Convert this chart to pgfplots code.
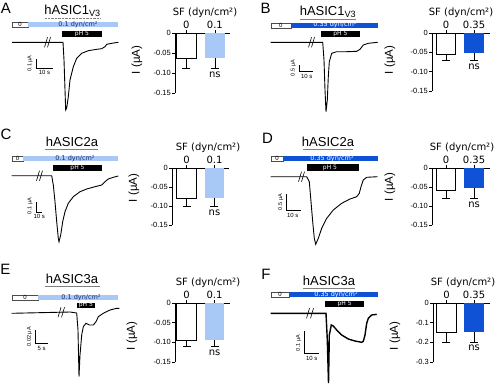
\documentclass[border=0pt]{standalone}
\usepackage{pgfplots}
\pgfplotsset{compat=1.18}
\usepackage{fontspec}
\setmainfont{Liberation Sans}
\newfontfamily\dv{DejaVu Sans}
\definecolor{lb}{RGB}{168,200,245}
\definecolor{db}{RGB}{16,82,214}
\definecolor{navy}{RGB}{25,45,120}
\newcommand{\fs}[1]{\fontsize{#1}{#1}\selectfont}
\pgfplotsset{
 barax/.style={scale only axis, anchor=north west, clip=false,
  axis x line=top, axis y line=left, axis line style={-, line width=0.6pt},
  tick align=outside, major tick length=3pt, tick style={black, line width=0.6pt},
  xtick={0,1}, ymax=0,
  yticklabel style={font=\fs{7.5}, inner sep=1pt},
  xticklabel style={font=\dv\fs{10}, inner sep=1pt},
  /pgf/number format/assume math mode=true},
 wbar/.style={ybar, bar width=19.5pt, bar shift=0pt, fill=white, draw=black, line width=0.6pt,
  error bars/.cd, y dir=minus, y explicit, error mark=-,
  error bar style={draw=black, line width=0.6pt},
  error mark options={draw=black, line width=0.6pt, mark size=4pt, rotate=90}},
 cbar/.style={ybar, bar width=19.5pt, bar shift=0pt, fill=#1, draw=none,
  error bars/.cd, y dir=minus, y explicit, error mark=-,
  error bar style={draw=black, line width=0.6pt},
  error mark options={draw=black, line width=0.6pt, mark size=4pt, rotate=90}},
}
\newcommand{\ns}[1]{\node[font=\dv\fs{10}, anchor=north, inner sep=1pt, yshift=-2pt] at (axis cs:1,#1) {ns};}
\newcommand{\brk}[2]{\draw[black, line width=0.6pt] (#1-1.5,#2+5) -- (#1+1.5,#2-5);}
\newcommand{\sflab}[2]{\node[font=\dv\fs{10}] at (#1,#2) {SF (dyn/cm²)};}
\newcommand{\ilab}[2]{\node[font=\fs{11.5}, rotate=90] at (#1,#2) {I (µA)};}
\begin{document}
\begin{tikzpicture}
\path[use as bounding box] (0,0) rectangle (500pt,383pt);
\begin{axis}[at={(0pt,0pt)}, anchor=south west, scale only axis, width=500pt, height=383pt,
  xmin=0, xmax=500, ymin=0, ymax=383, y dir=reverse, hide axis, clip=false]
% ---- traces
\addplot[black, line width=0.9pt] coordinates {(12,42.3) (63,42.3) (64,60) (65,90) (65.7,110) (66.7,108) (68.3,96.7) (70,80) (73.3,66.7) (76.7,58.3) (81.7,53.3) (88.3,50.7) (96.7,49.3) (101.7,48.7) (105,46.7) (106.7,44.3) (111.7,43.3) (118.3,42.3)};
\addplot[black, line width=0.9pt] coordinates {(270.7,42.3) (322.7,42.3) (324,60) (325,90) (326,111.7) (327.3,100) (328.3,76.7) (329.3,61.7) (331.7,53.3) (336.7,51.7) (346.7,51.7) (356.7,51.3) (360,49.3) (363.3,45) (368.3,43.3) (377.7,42.3)};
\addplot[black, line width=0.9pt] coordinates {(11.7,175.7) (51.7,175.7) (53.3,185) (55,201.7) (56.7,221.7) (58.3,238.3) (59,241.7) (60.7,235) (62.7,221.7) (65,211.7) (68.3,203.3) (73.3,196.7) (80,191.7) (86.7,189) (95,186.7) (101.7,185) (105,181.7) (108.3,179) (113.3,177.3) (118.3,176)};
\addplot[black, line width=0.9pt] coordinates {(270.7,176.7) (306.7,176.7) (309.3,181.7) (311,201.7) (312.7,221.7) (314.3,238.3) (315.7,244.3) (318.3,238.3) (321.7,228.3) (326.7,218.3) (333.3,210) (341.7,203.3) (350,199) (356.7,196.7) (359.3,193.3) (361,186.7) (363.3,180) (366.7,177.3) (377.7,176.7)};
\addplot[black, line width=0.9pt] coordinates {(11.7,313.3) (56.7,312.3) (70,312) (76.7,313) (78,330) (79,376.7) (80,355) (81.7,335) (83.3,326.7) (86,323.3) (89.3,325) (93.3,325) (96,321.7) (98.3,316.7) (103.3,313.3) (110,310) (116.7,308.3) (119.3,308.3)};
\addplot[black, line width=1.4pt] coordinates {(270.7,313.3) (326,313.3) (327.3,340) (328.5,383) (329,355) (329.3,335) (330,331.7) (331.3,325) (333.3,326) (336.7,330) (341.7,335) (348.3,339) (355,341) (361.7,342.3) (363.3,341.3) (365,335) (366.7,323.3) (368.3,318.3) (371.7,315) (376.7,314.3)};
% ---- break marks
\brk{46}{42.3} \brk{49}{42.3} \brk{310}{42.3} \brk{313}{42.3}
\brk{38}{175.7} \brk{41}{175.7} \brk{300}{176.7} \brk{303}{176.7}
\brk{59.5}{312.3} \brk{63}{312.3} \brk{308}{313.3} \brk{312}{313.3}
% ---- stimulus bars
% A
\filldraw[fill=white, draw=gray!60!black, line width=0.4pt] (12,21.7) rectangle (28.3,27.3);
\node[font=\fs{6}, inner sep=0pt] at (20,24.5) {0};
\fill[lb] (28.3,21.7) rectangle (118.3,27.3);
\node[font=\dv\fs{6.5}, text=navy, inner sep=0pt] at (78,24.5) {0.1 dyn/cm²};
\fill[black] (61.7,30.7) rectangle (101.7,37.3);
\node[font=\dv\fs{6}, text=white, inner sep=0pt] at (82,34) {pH 5};
% B
\filldraw[fill=white, draw=gray!60!black, line width=0.4pt] (270.7,22.7) rectangle (290.7,27.7);
\node[font=\fs{6}, inner sep=0pt] at (280.7,25.2) {0};
\fill[db] (290.7,22.7) rectangle (377.7,27.7);
\node[font=\dv\fs{6.5}, text=white, inner sep=0pt] at (335,25.2) {0.35 dyn/cm²};
\fill[black] (320.7,31.3) rectangle (360,36.7);
\node[font=\dv\fs{6}, text=white, inner sep=0pt] at (340.3,34) {pH 5};
% C
\filldraw[fill=white, draw=gray!60!black, line width=0.4pt] (11.7,156) rectangle (23.3,161);
\node[font=\fs{6}, inner sep=0pt] at (17.5,158.5) {0};
\fill[lb] (23.3,156) rectangle (118.3,161);
\node[font=\dv\fs{6.5}, text=navy, inner sep=0pt] at (75,158.5) {0.1 dyn/cm²};
\fill[black] (53.3,165) rectangle (101.7,171);
\node[font=\dv\fs{6}, text=white, inner sep=0pt] at (77.5,168) {pH 5};
% D
\filldraw[fill=white, draw=gray!60!black, line width=0.4pt] (270.7,156) rectangle (283.3,161);
\node[font=\fs{6}, inner sep=0pt] at (277,158.5) {0};
\fill[db] (283.3,156) rectangle (377.7,161);
\node[font=\dv\fs{6.5}, text=white, inner sep=0pt] at (332,158.5) {0.35 dyn/cm²};
\fill[black] (307.3,164.3) rectangle (359.3,170.7);
\node[font=\dv\fs{6}, text=white, inner sep=0pt] at (330,167.5) {pH 5};
% E
\filldraw[fill=white, draw=gray!60!black, line width=0.4pt] (11.7,295) rectangle (38.3,300);
\node[font=\fs{6}, inner sep=0pt] at (25,297.5) {0};
\fill[lb] (38.3,295) rectangle (118.3,300);
\node[font=\dv\fs{6.5}, text=navy, inner sep=0pt] at (81,297.5) {0.1 dyn/cm²};
\fill[black] (76.7,302.7) rectangle (95,307.7);
\node[font=\dv\fs{6}, text=white, inner sep=0pt] at (85.8,305.2) {pH 5};
% F
\filldraw[fill=white, draw=gray!60!black, line width=0.4pt] (270.7,291.7) rectangle (289.3,297.3);
\node[font=\fs{6}, inner sep=0pt] at (280,294.5) {0};
\fill[db] (289.3,291.7) rectangle (378.3,297.3);
\node[font=\dv\fs{6.5}, text=white, inner sep=0pt] at (336,294.5) {0.35 dyn/cm²};
\fill[black] (325,300.7) rectangle (364.3,307.3);
\node[font=\dv\fs{6}, text=white, inner sep=0pt] at (344.7,304) {pH 5};
% ---- scale bars
\draw[line width=0.8pt] (36,59)--(36,68)--(53,68);
\node[rotate=90, font=\fs{5.5}] at (30,63.5) {0.1 µA};
\node[font=\fs{6}] at (44.5,72.5) {10 s};
\draw[line width=0.8pt] (299.3,65)--(299.3,71.7)--(313.3,71.7);
\node[rotate=90, font=\fs{5.5}] at (293.3,68) {0.5 µA};
\node[font=\fs{6}] at (306.7,76.5) {10 s};
\draw[line width=0.8pt] (36,201.7)--(36,212.3)--(41.7,212.3);
\node[rotate=90, font=\fs{5.5}] at (30,206) {0.1 µA};
\node[font=\fs{6}] at (39.3,216.7) {10 s};
\draw[line width=0.8pt] (286,194.3)--(286,210)--(300.7,210);
\node[rotate=90, font=\fs{5.5}] at (280.7,202) {0.5 µA};
\node[font=\fs{6}] at (292.7,215.5) {10 s};
\draw[line width=0.8pt] (35,330)--(35,343.3)--(48.3,343.3);
\node[rotate=90, font=\fs{5.5}] at (29.5,336.7) {0.02 µA};
\node[font=\fs{6}] at (41.7,348.5) {5 s};
\draw[line width=0.8pt] (304,331)--(304,353.3)--(319.3,353.3);
\node[rotate=90, font=\fs{5.5}] at (298.5,343) {0.1 µA};
\node[font=\fs{6}] at (311.7,358.5) {10 s};
% ---- panel letters, titles
\node[font=\fs{15}] at (6,8) {A};
\node[font=\fs{15}] at (265.5,8) {B};
\node[font=\fs{15}] at (6,134) {C};
\node[font=\fs{15}] at (267.5,138) {D};
\node[font=\fs{15}] at (5.5,269) {E};
\node[font=\fs{15}] at (266,274) {F};
\node[font=\fs{13}] at (72.5,11) {hASIC1\textsubscript{V3}};
\draw[gray, line width=0.4pt, densely dotted] (45,18)--(100,18);
\node[font=\fs{13}] at (328,12) {hASIC1\textsubscript{V3}};
\draw[gray, line width=0.4pt] (300,19)--(356,19);
\node[font=\fs{13}] at (72,142) {hASIC2a};
\draw[gray, line width=0.4pt] (45,149)--(98,149);
\node[font=\fs{13}] at (328,142) {hASIC2a};
\draw[gray, line width=0.4pt] (303,149)--(353,149);
\node[font=\fs{13}] at (72,279) {hASIC3a};
\draw[gray, line width=0.4pt] (45,286)--(100,286);
\node[font=\fs{13}] at (329,281) {hASIC3a};
\draw[gray, line width=0.4pt] (303,288)--(355,288);
% ---- bar chart labels
\sflab{205}{13} \sflab{461}{13} \sflab{208}{148} \sflab{462}{148} \sflab{208}{283} \sflab{463}{283}
\ilab{137}{60} \ilab{390}{60} \ilab{134}{188} \ilab{390}{187} \ilab{132}{336} \ilab{395}{336}
\end{axis}
% ---- bar charts
\begin{axis}[barax, at={(175pt,350pt)}, width=55pt, height=60pt, xmin=-0.40, xmax=1.53, ymin=-0.15,
  ytick={-0.15,-0.1,-0.05,0}, yticklabels={-0.15,-0.10,-0.05,0}, xticklabels={0,0.1}]
\addplot[wbar] coordinates {(0,-0.063) +- (0,0.025)};
\addplot[cbar=lb] coordinates {(1,-0.063) +- (0,0.025)};
\ns{-0.089}
\end{axis}
\begin{axis}[barax, at={(432pt,350pt)}, width=58pt, height=58pt, xmin=-0.5, xmax=1.57, ymin=-0.15,
  ytick={-0.15,-0.1,-0.05,0}, yticklabels={-0.15,-0.10,-0.05,0}, xticklabels={0,0.35}]
\addplot[wbar] coordinates {(0,-0.054) +- (0,0.016)};
\addplot[cbar=db] coordinates {(1,-0.052) +- (0,0.018)};
\ns{-0.071}
\end{axis}
\begin{axis}[barax, at={(172pt,215pt)}, width=57pt, height=57pt, xmin=-0.52, xmax=1.52, ymin=-0.15,
  ytick={-0.15,-0.1,-0.05,0}, yticklabels={-0.15,-0.10,-0.05,0}, xticklabels={0,0.1}]
\addplot[wbar] coordinates {(0,-0.079) +- (0,0.021)};
\addplot[cbar=lb] coordinates {(1,-0.079) +- (0,0.021)};
\ns{-0.101}
\end{axis}
\begin{axis}[barax, at={(432pt,215pt)}, width=58pt, height=57pt, xmin=-0.5, xmax=1.57, ymin=-0.15,
  ytick={-0.15,-0.1,-0.05,0}, yticklabels={-0.15,-0.10,-0.05,0}, xticklabels={0,0.35}]
\addplot[wbar] coordinates {(0,-0.058) +- (0,0.021)};
\addplot[cbar=db] coordinates {(1,-0.053) +- (0,0.026)};
\ns{-0.080}
\end{axis}
\begin{axis}[barax, at={(175pt,80pt)}, width=55pt, height=59pt, xmin=-0.41, xmax=1.55, ymin=-0.15,
  ytick={-0.15,-0.1,-0.05,0}, yticklabels={-0.15,-0.10,-0.05,0}, xticklabels={0,0.1}]
\addplot[wbar] coordinates {(0,-0.094) +- (0,0.015)};
\addplot[cbar=lb] coordinates {(1,-0.094) +- (0,0.015)};
\ns{-0.110}
\end{axis}
\begin{axis}[barax, at={(433pt,80pt)}, width=57pt, height=59pt, xmin=-0.49, xmax=1.58, ymin=-0.3,
  ytick={-0.3,-0.2,-0.1,0}, yticklabels={-0.3,-0.2,-0.1,0}, xticklabels={0,0.35}]
\addplot[wbar] coordinates {(0,-0.147) +- (0,0.051)};
\addplot[cbar=db] coordinates {(1,-0.145) +- (0,0.053)};
\ns{-0.199}
\end{axis}
\end{tikzpicture}
\end{document}
